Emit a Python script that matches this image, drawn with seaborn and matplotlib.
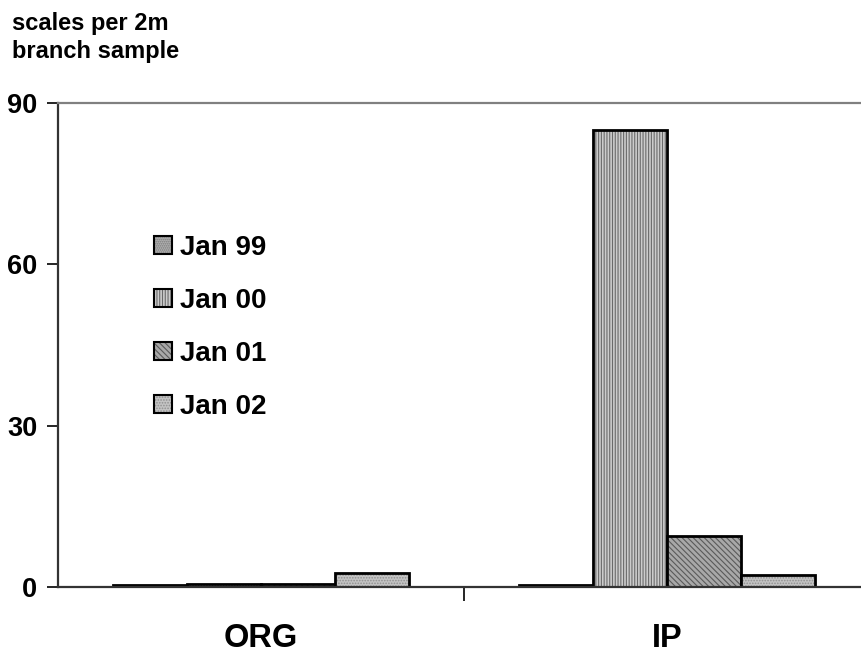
import matplotlib
matplotlib.use("Agg")
import matplotlib.pyplot as plt
import matplotlib.colors as mcolors
from matplotlib.patches import Patch
import seaborn as sns
import pandas as pd

# Scale counts per 2 m branch sample, by site and survey date
sites = ["ORG", "IP"]
surveys = ["Jan 99", "Jan 00", "Jan 01", "Jan 02"]
org_counts = [0.4, 0.6, 0.5, 2.6]
ip_counts = [0.3, 85.0, 9.5, 2.2]
y_ticks = [0, 30, 60, 90]

face_colors = ["#b0b0b0", "#cccccc", "#a8a8a8", "#c4c4c4"]
hatch_colors = ["#7a7a7a", "#6a6a6a", "#5a5a5a", "#909090"]
hatches = ["........", "||||||", "\\\\\\\\\\\\", "......"]

rows = []
for site, counts in zip(sites, [org_counts, ip_counts]):
    for survey, v in zip(surveys, counts):
        rows.append({"site": site, "survey": survey, "scales": v})
df = pd.DataFrame(rows)

sns.set_theme(style="white")
plt.rcParams["font.family"] = ["Liberation Sans", "DejaVu Sans"]
plt.rcParams["font.weight"] = "bold"
plt.rcParams["text.color"] = "black"
plt.rcParams["xtick.color"] = "black"
plt.rcParams["ytick.color"] = "black"
plt.rcParams["hatch.linewidth"] = 0.8

fig = plt.figure(figsize=(8.61, 6.53), dpi=100)
ax = fig.add_axes([58 / 861, 1 - 587 / 653, 812 / 861, 484 / 653])

sns.barplot(data=df, x="site", y="scales", hue="survey", order=sites,
            hue_order=surveys, palette=face_colors, width=0.73,
            edgecolor="black", linewidth=2, errorbar=None, legend=False,
            saturation=1, ax=ax)


def style_hatch(patch, hatch, hcolor):
    patch.set_hatch(hatch)
    if hasattr(patch, "set_hatchcolor"):
        patch.set_hatchcolor(hcolor)
    else:
        patch._hatch_color = mcolors.to_rgba(hcolor)


for cont, h, hc in zip(ax.containers, hatches, hatch_colors):
    for p in cont.patches:
        style_hatch(p, h, hc)

ax.set_ylim(0, 90)
ax.set_xlim(-0.5, 1.5)
ax.set_yticks(y_ticks)
ax.set_yticklabels([str(t) for t in y_ticks], fontsize=19.5,
                   fontweight="bold", color="black")
ax.tick_params(axis="y", direction="out", length=8, width=1.2, pad=7,
               colors="black", left=True)
ax.set_xticks([0, 1])
ax.set_xticklabels(sites, fontsize=23.5, fontweight="bold", color="black")
ax.tick_params(axis="x", length=0, pad=26)
ax.set_xticks([0.5], minor=True)
ax.tick_params(axis="x", which="minor", direction="out", length=10,
               width=1.2, bottom=True, color="black")
ax.set_xlabel("")
ax.set_ylabel("")

for side in ["left", "bottom"]:
    ax.spines[side].set_color("#333333")
    ax.spines[side].set_linewidth(1.6)
ax.spines["top"].set_color("#808080")
ax.spines["top"].set_linewidth(1.6)
ax.spines["right"].set_visible(False)

handles = []
for fc, h, hc in zip(face_colors, hatches, hatch_colors):
    p = Patch(facecolor=fc, edgecolor="black", linewidth=1.5)
    style_hatch(p, h, hc)
    handles.append(p)
leg = ax.legend(handles=handles, labels=surveys, loc="upper left",
                bbox_to_anchor=(140 / 861, 1 - 221 / 653),
                bbox_transform=fig.transFigure, frameon=False, borderpad=0,
                prop={"size": 20, "weight": "bold"}, handlelength=0.65,
                handleheight=0.65, handletextpad=0.3, labelspacing=0.97)
for t in leg.get_texts():
    t.set_color("black")

fig.text(12 / 861, 1 - 12 / 653, "scales per 2m\nbranch sample",
         fontsize=17, fontweight="bold", ha="left", va="top",
         linespacing=1.3, color="black")

fig.savefig("out.png", dpi=100)
